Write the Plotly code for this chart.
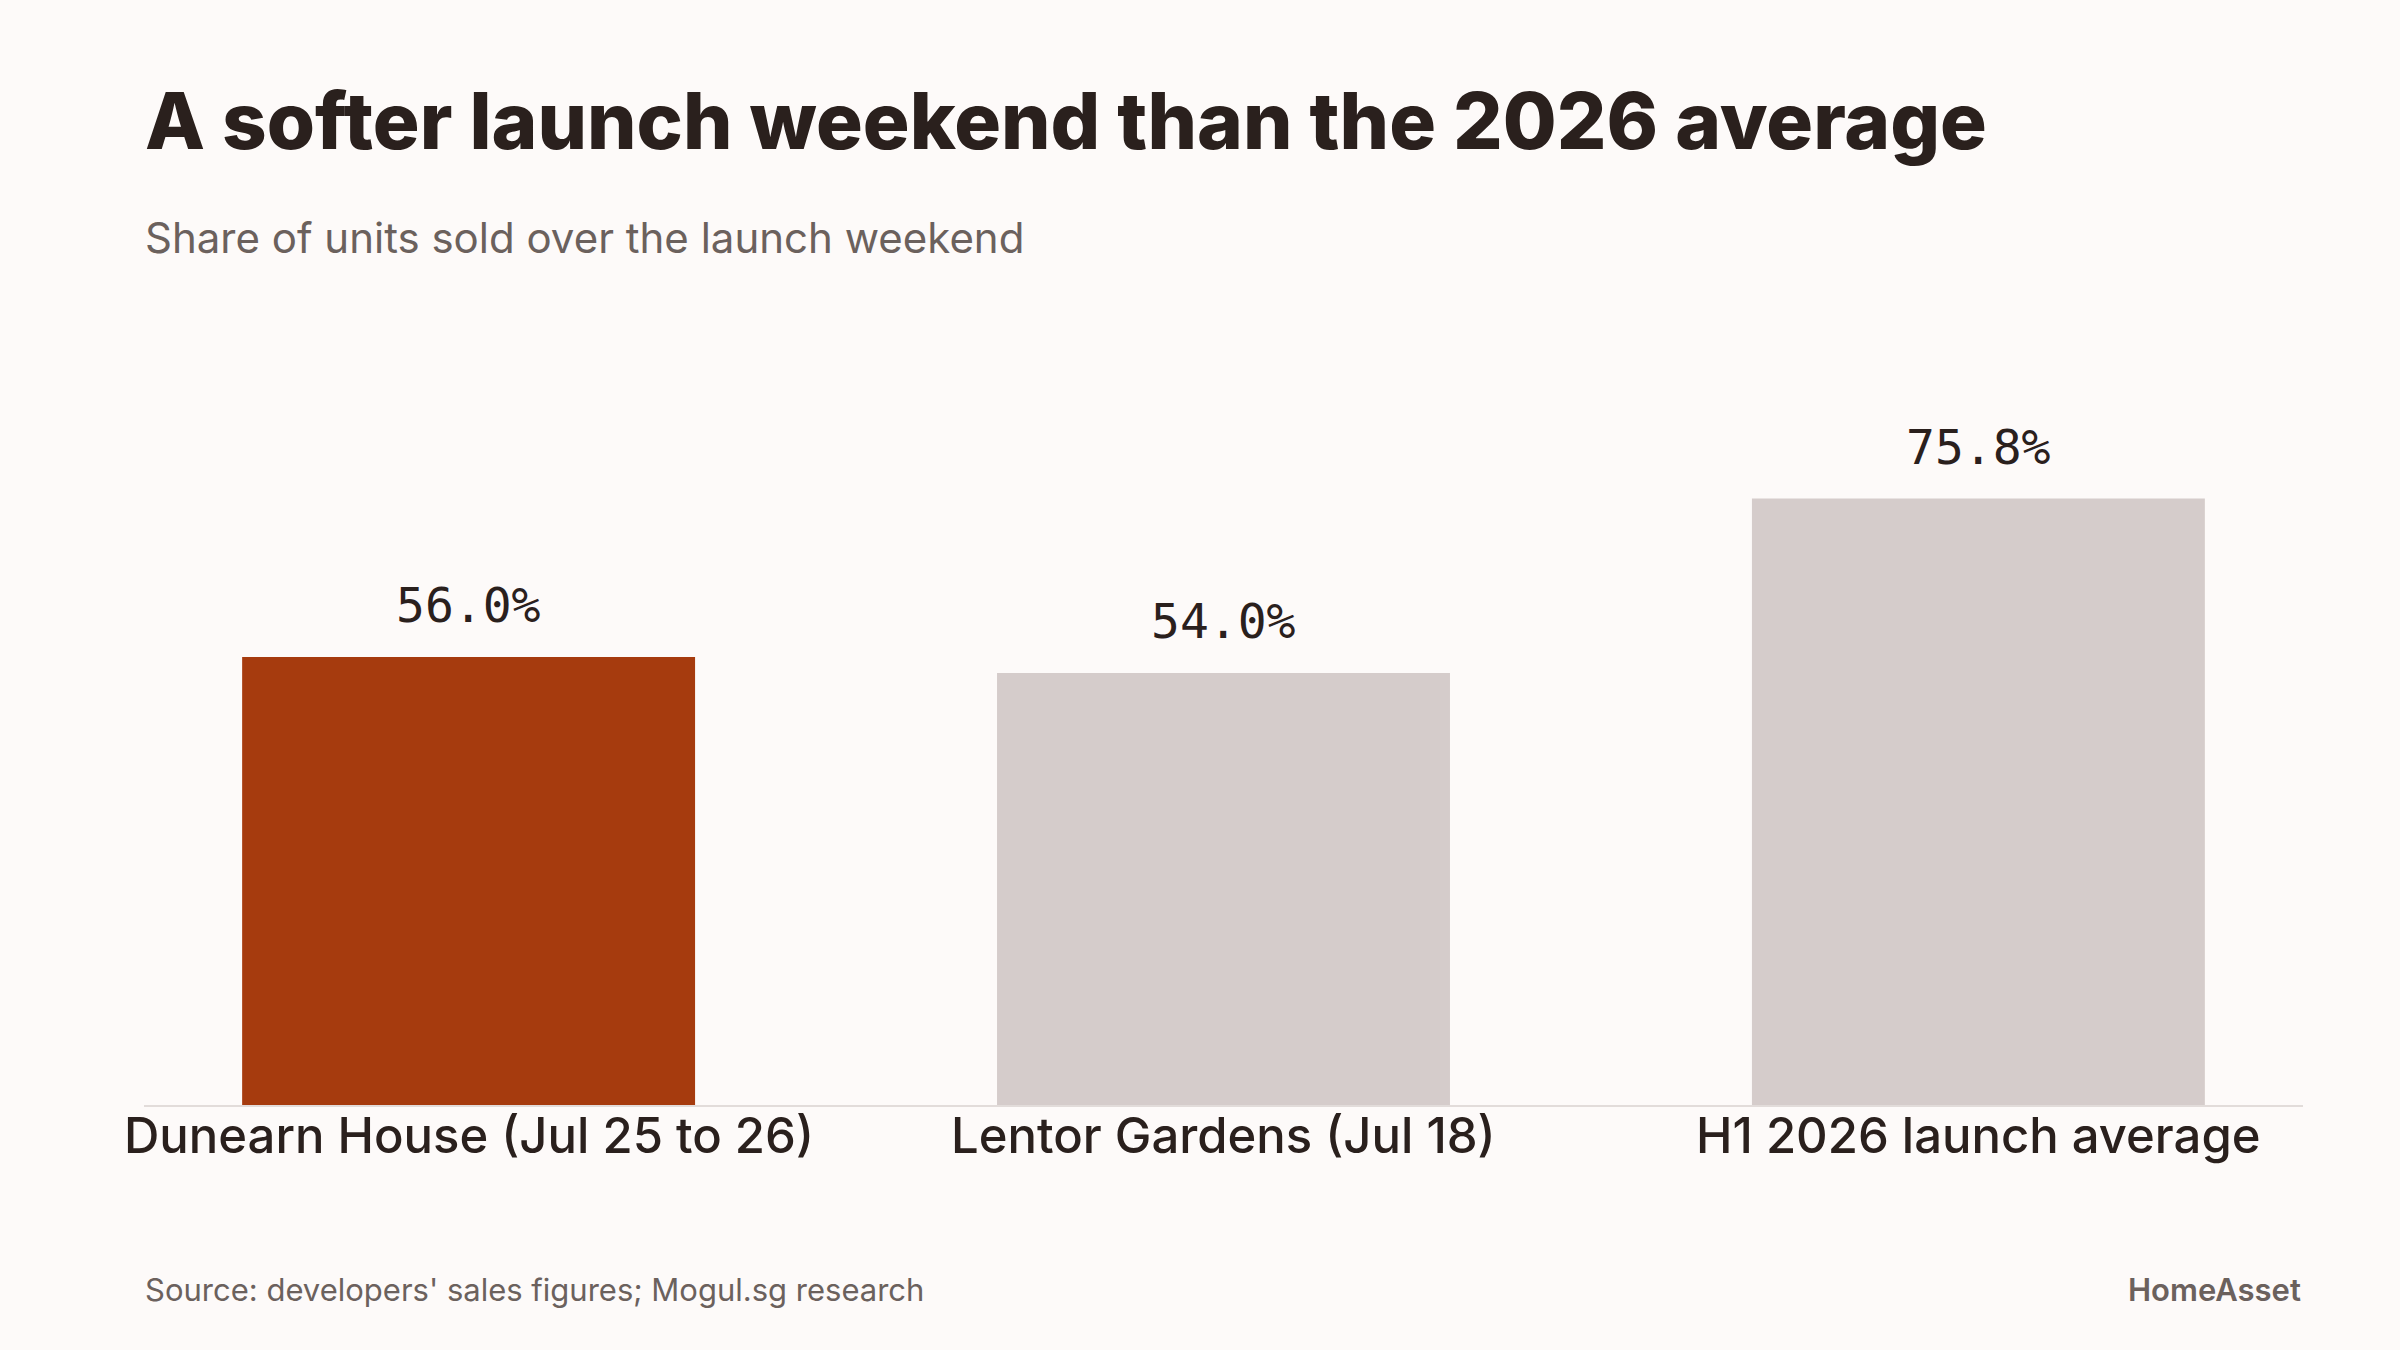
import plotly.graph_objects as go

categories = ["Dunearn House (Jul 25 to 26)", "Lentor Gardens (Jul 18)", "H1 2026 launch average"]
values = [56.0, 54.0, 75.8]
bar_colors = ["#a63b0e", "#d5cccb", "#d5cccb"]
value_labels = [f"{v:.1f}%" for v in values]

title_text = "A softer launch weekend than the 2026 average"
subtitle_text = "Share of units sold over the launch weekend"
source_text = "Source: developers' sales figures; Mogul.sg research"
brand_text = "HomeAsset"

BG = "#fdfaf9"
DARK = "#2a201d"
GREY = "#6b615d"

W, H = 2400, 1350
L, R, T, B = 144, 97, 305, 245
pw, ph = W - L - R, H - T - B


def px_x(x):
    return (x - L) / pw


def px_y(y):
    return (H - B - y) / ph


fig = go.Figure()
fig.add_trace(go.Bar(
    x=categories, y=values, marker=dict(color=bar_colors, line=dict(width=0)),
    width=0.6, hoverinfo="skip",
))

annotations = []
for c, v, t in zip(categories, values, value_labels):
    annotations.append(dict(x=c, y=v, text=t, showarrow=False, yanchor="bottom",
                            yshift=22, font=dict(family="DejaVu Sans Mono", size=48, color=DARK)))
for c in categories:
    annotations.append(dict(x=c, y=0, text=c, showarrow=False, yanchor="middle",
                            yshift=-30, font=dict(family="Inter", size=49, color=DARK, weight=500)))

annotations += [
    dict(x=px_x(143), y=px_y(152), xref="paper", yref="paper", xanchor="left", yanchor="bottom",
         text=title_text, showarrow=False, yshift=-18,
         font=dict(family="Inter", size=78, color=DARK, weight=800)),
    dict(x=px_x(143), y=px_y(255), xref="paper", yref="paper", xanchor="left", yanchor="bottom",
         text=subtitle_text, showarrow=False, yshift=-10,
         font=dict(family="Inter", size=42, color=GREY)),
    dict(x=px_x(143), y=px_y(1303), xref="paper", yref="paper", xanchor="left", yanchor="bottom",
         text=source_text, showarrow=False, yshift=-7,
         font=dict(family="Inter", size=31, color=GREY)),
    dict(x=px_x(2303), y=px_y(1303), xref="paper", yref="paper", xanchor="right", yanchor="bottom",
         text=brand_text, showarrow=False, yshift=-7,
         font=dict(family="Inter", size=31, color=GREY, weight=600)),
]

fig.update_layout(
    width=W, height=H,
    margin=dict(l=L, r=R, t=T, b=B, pad=0),
    paper_bgcolor=BG, plot_bgcolor=BG,
    showlegend=False,
    annotations=annotations,
    xaxis=dict(range=[-0.43, 2.43], showline=True, linecolor="#e2dcda", linewidth=2,
               showgrid=False, zeroline=False, ticks="", showticklabels=False),
    yaxis=dict(range=[0, 100], visible=False, showgrid=False, zeroline=False),
)

fig.write_html("out.html")
